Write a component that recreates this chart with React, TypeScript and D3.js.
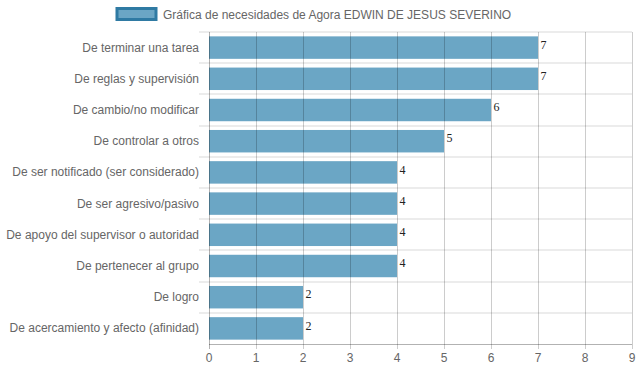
import { useEffect, useRef } from 'react';
import * as d3 from 'd3';

const categories = [
  'De terminar una tarea',
  'De reglas y supervisión',
  'De cambio/no modificar',
  'De controlar a otros',
  'De ser notificado (ser considerado)',
  'De ser agresivo/pasivo',
  'De apoyo del supervisor o autoridad',
  'De pertenecer al grupo',
  'De logro',
  'De acercamiento y afecto (afinidad)',
];
const values = [7, 7, 6, 5, 4, 4, 4, 4, 2, 2];
const xTicks = [0, 1, 2, 3, 4, 5, 6, 7, 8, 9];
const legendLabel = 'Gráfica de necesidades de Agora EDWIN DE JESUS SEVERINO';

const W = 639;
const H = 372;

export default function App() {
  const svgRef = useRef<SVGSVGElement>(null);

  useEffect(() => {
    if (!svgRef.current) return;
    const svg = d3.select(svgRef.current);
    svg.selectAll('*').remove();

    const font = '"Liberation Sans", Arial, Helvetica, sans-serif';
    const margin = { top: 32, right: 7, bottom: 28, left: 209 };
    const width = W - margin.left - margin.right;
    const height = H - margin.top - margin.bottom;

    const x = d3.scaleLinear().domain([0, 9]).range([0, width]);
    const y = d3.scaleBand<string>().domain(categories).range([0, height]);
    const barH = y.bandwidth() * 0.72;

    const g = svg.append('g').attr('transform', `translate(${margin.left},${margin.top})`);

    // horizontal grid between categories
    g.selectAll('.hgrid')
      .data(categories)
      .enter()
      .append('line')
      .attr('x1', -10)
      .attr('x2', width)
      .attr('y1', d => Math.round(y(d)!))
      .attr('y2', d => Math.round(y(d)!))
      .attr('stroke', '#ececec')
      .attr('stroke-width', 2);

    // bars
    g.selectAll('.bar')
      .data(values)
      .enter()
      .append('rect')
      .attr('x', 0)
      .attr('y', (d, i) => y(categories[i])! + (y.bandwidth() - barH) / 2)
      .attr('width', d => x(d))
      .attr('height', barH)
      .attr('fill', '#6ba6c5');

    // vertical grid (drawn over bars)
    g.selectAll('.vgrid')
      .data(xTicks)
      .enter()
      .append('line')
      .attr('x1', d => Math.round(x(d)) + 0.5)
      .attr('x2', d => Math.round(x(d)) + 0.5)
      .attr('y1', 0)
      .attr('y2', height + 5)
      .attr('stroke', d => (d === 0 ? 'rgba(0,0,0,0.3)' : 'rgba(0,0,0,0.2)'))
      .attr('stroke-width', 1);

    // x axis line
    g.append('line')
      .attr('x1', 0).attr('x2', width)
      .attr('y1', height + 0.5).attr('y2', height + 0.5)
      .attr('stroke', 'rgba(0,0,0,0.3)');

    // x tick labels
    g.selectAll('.xtick')
      .data(xTicks)
      .enter()
      .append('text')
      .attr('x', d => x(d))
      .attr('y', height + 18)
      .attr('text-anchor', 'middle')
      .attr('fill', '#666')
      .style('font-family', font)
      .style('font-size', '12px')
      .text(d => d);

    // category labels
    g.selectAll('.ylab')
      .data(categories)
      .enter()
      .append('text')
      .attr('x', -10)
      .attr('y', d => y(d)! + y.bandwidth() / 2 + 4)
      .attr('text-anchor', 'end')
      .attr('fill', '#666')
      .style('font-family', font)
      .style('font-size', '12px')
      .text(d => d);

    // value labels
    g.selectAll('.val')
      .data(values)
      .enter()
      .append('text')
      .attr('x', d => x(d) + 2.5)
      .attr('y', (d, i) => y(categories[i])! + (y.bandwidth() - barH) / 2 + 12.5)
      .attr('fill', '#222')
      .style('font-family', '"Liberation Serif", "Times New Roman", serif')
      .style('font-size', '12px')
      .text(d => d);

    // legend
    const legend = svg.append('g');
    legend.append('rect')
      .attr('x', 117).attr('y', 8.5)
      .attr('width', 39).attr('height', 11)
      .attr('fill', '#6ba6c5')
      .attr('stroke', '#2f7aa3')
      .attr('stroke-width', 3);
    legend.append('text')
      .attr('x', 163).attr('y', 19)
      .attr('fill', '#666')
      .style('font-family', font)
      .style('font-size', '12px')
      .text(legendLabel);
  }, []);

  return (
    <div style={{ position: 'absolute', left: 0, top: 0 }}>
      <svg ref={svgRef} width={W} height={H} style={{ display: 'block', background: '#fff' }} />
    </div>
  );
}
